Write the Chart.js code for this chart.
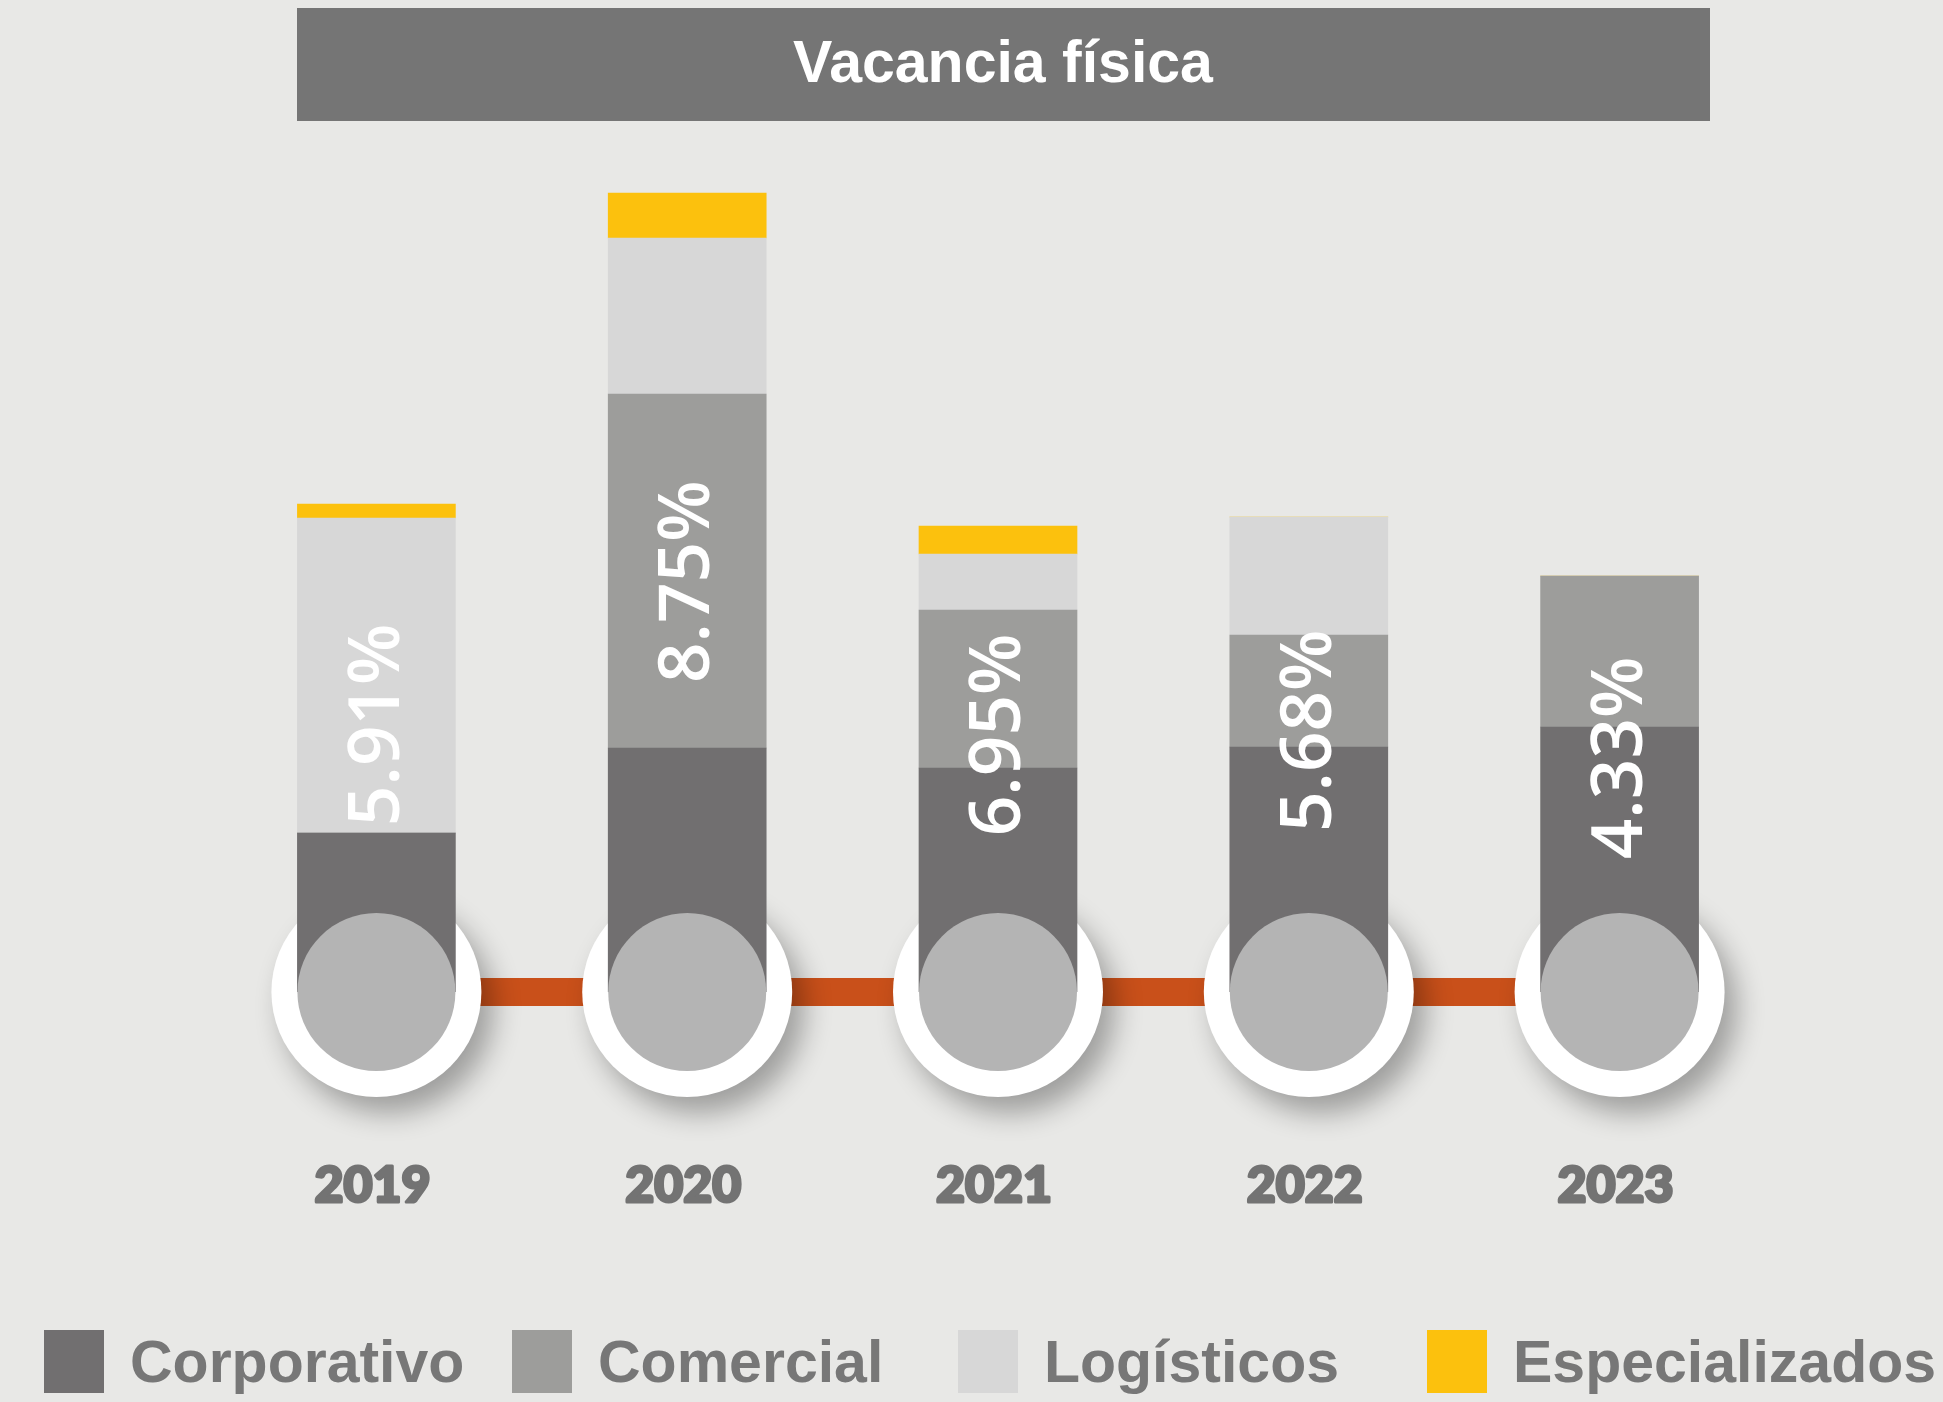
<!DOCTYPE html>
<html lang="es">
<head>
<meta charset="UTF-8">
<title>Vacancia física</title>
<script src="https://cdn.jsdelivr.net/npm/chart.js@4.4.1/dist/chart.umd.min.js"></script>
<style>
  html, body { margin: 0; padding: 0; background: #e8e8e6; }
  canvas { display: block; }
</style>
</head>
<body>
<canvas id="grafico" width="1943" height="1402"></canvas>
<script>
// Datos (alto de cada tramo, en puntos)
const years = ['2019', '2020', '2021', '2022', '2023'];
const totalLabels = ['5.91%', '8.75%', '6.95%', '5.68%', '4.33%'];
const corporativo = [1.59, 2.44, 2.24, 2.45, 2.65];
const comercial = [0, 3.54, 1.58, 1.12, 1.51];
const logisticos = [3.15, 1.56, 0.56, 1.18, 0];
const especializados = [0.14, 0.45, 0.28, 0, 0];

const seriesNames = ['Corporativo', 'Comercial', 'Logísticos', 'Especializados'];
const seriesColors = ['#716f70', '#9d9d9b', '#d7d7d7', '#fcc10d'];

const fontSans = '"Liberation Sans", Arial, sans-serif';

// Fondo + barra de título
const fondo = {
    id: 'fondo',
    beforeDraw(chart) {
        const ctx = chart.ctx;
        ctx.save();
        ctx.fillStyle = '#e8e8e6';
        ctx.fillRect(0, 0, chart.width, chart.height);
        ctx.fillStyle = '#757575';
        ctx.fillRect(297, 8, 1413, 113);
        ctx.fillStyle = '#ffffff';
        ctx.font = 'bold 59px ' + fontSans;
        ctx.textAlign = 'center';
        ctx.textBaseline = 'alphabetic';
        ctx.fillText('Vacancia física', 1003, 82);
        ctx.restore();
    }
};

// Línea naranja y círculos blancos detrás de las barras
const lineaTiempo = {
    id: 'lineaTiempo',
    beforeDatasetsDraw(chart) {
        const ctx = chart.ctx;
        const x = chart.scales.x, y = chart.scales.y;
        const base = y.getPixelForValue(0);
        const xs = years.map((_, i) => x.getPixelForValue(i));

        ctx.save();
        ctx.fillStyle = '#c9501a';
        ctx.fillRect(xs[0], base - 14, xs[xs.length - 1] - xs[0], 28);

        xs.forEach(cx => {
            ctx.save();
            ctx.shadowColor = 'rgba(0, 0, 0, 0.32)';
            ctx.shadowBlur = 28;
            ctx.shadowOffsetX = 12;
            ctx.shadowOffsetY = 16;
            ctx.beginPath();
            ctx.arc(cx, base, 105, 0, Math.PI * 2);
            ctx.fillStyle = '#ffffff';
            ctx.fill();
            ctx.restore();
        });
        ctx.restore();
    },
    afterDatasetsDraw(chart) {
        const ctx = chart.ctx;
        const x = chart.scales.x, y = chart.scales.y;
        const base = y.getPixelForValue(0);
        const meta = chart.getDatasetMeta(0);

        ctx.save();
        years.forEach((yr, i) => {
            const cx = x.getPixelForValue(i);
            const r = meta.data[i].width / 2;

            // círculo gris sobre la base de la barra
            ctx.beginPath();
            ctx.arc(cx, base, r, 0, Math.PI * 2);
            ctx.fillStyle = '#b4b4b4';
            ctx.fill();

            // total de la barra, girado
            const total = chart.data.datasets.reduce((s, ds) => s + ds.data[i], 0);
            const top = y.getPixelForValue(total);
            const cy = 0.46 * top + 0.54 * (base - r);
            ctx.save();
            ctx.translate(cx + 2, cy);
            ctx.rotate(-Math.PI / 2);
            ctx.fillStyle = '#ffffff';
            ctx.font = '600 71px "Open Sans", sans-serif';
            ctx.textAlign = 'center';
            ctx.textBaseline = 'middle';
            ctx.fillText(totalLabels[i], 0, 0);
            ctx.restore();

            // año debajo (trazo extra para que se vea más grueso)
            ctx.fillStyle = '#737373';
            ctx.strokeStyle = '#737373';
            ctx.lineWidth = 3;
            ctx.lineJoin = 'round';
            ctx.font = '900 50px Lato, sans-serif';
            ctx.textAlign = 'center';
            ctx.textBaseline = 'alphabetic';
            ctx.strokeText(yr, cx - 4, 1202);
            ctx.fillText(yr, cx - 4, 1202);
        });
        ctx.restore();
    }
};

// Leyenda inferior
const leyenda = {
    id: 'leyenda',
    afterDraw(chart) {
        const ctx = chart.ctx;
        const legendX = [44, 512, 958, 1427];
        ctx.save();
        ctx.font = 'bold 59px ' + fontSans;
        ctx.textAlign = 'left';
        ctx.textBaseline = 'alphabetic';
        chart.data.datasets.forEach((ds, i) => {
            ctx.fillStyle = ds.backgroundColor;
            ctx.fillRect(legendX[i], 1330, 60, 63);
            ctx.fillStyle = '#777777';
            ctx.fillText(ds.label, legendX[i] + 86, 1382);
        });
        ctx.restore();
    }
};

const seriesData = [corporativo, comercial, logisticos, especializados];

new Chart(document.getElementById('grafico'), {
    type: 'bar',
    data: {
        labels: years,
        datasets: seriesNames.map((name, i) => ({
            label: name,
            data: seriesData[i],
            backgroundColor: seriesColors[i],
            borderWidth: 0,
            barThickness: 158
        }))
    },
    options: {
        responsive: false,
        animation: false,
        events: [],
        layout: {
            padding: { left: 221, right: 168, top: 192, bottom: 410 }
        },
        plugins: {
            legend: { display: false },
            tooltip: { enabled: false },
            title: { display: false }
        },
        scales: {
            x: { stacked: true, display: false },
            y: { stacked: true, display: false, min: 0, max: 8 }
        }
    },
    plugins: [fondo, lineaTiempo, leyenda]
});
</script>
</body>
</html>
